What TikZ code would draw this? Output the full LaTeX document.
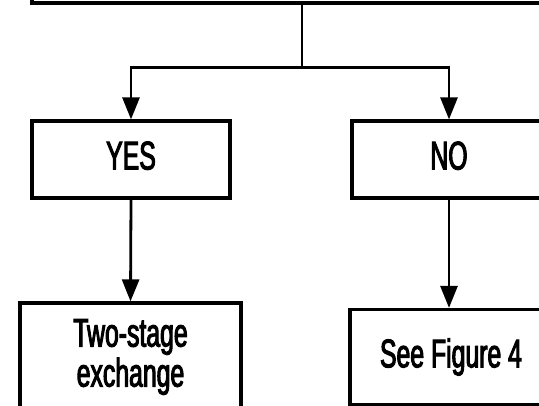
\documentclass[tikz,border=0pt]{standalone}
\usepackage{fontspec}
\usetikzlibrary{arrows.meta,positioning}
\newfontfamily\boxfont{Liberation Sans}[FakeStretch=0.62,FakeBold=2.5]
\tikzset{
  box/.style={draw,line width=3.2pt,inner sep=0pt,font=\boxfont\fontsize{40}{40}\selectfont,align=center},
  flow/.style={line width=2.6pt},
  flowto/.style={line width=2.8pt,-{Triangle[length=22pt,width=17pt]}}
}

\begin{document}
\begin{tikzpicture}[x=1pt,y=-1pt]
    \useasboundingbox(0,0)rectangle(539,406);
    \node[box,minimum width=540pt,minimum height=80pt](question)at(302,-37){};
    \node[box,minimum width=198pt,minimum height=77pt,text depth=8pt](yes)at(131,159.5){YES};
    \node[box,minimum width=194pt,minimum height=77pt,text depth=8pt](no)at(449,159.5){NO};
    \node[box,minimum width=221pt,minimum height=108pt](twostage)at(130.5,357){Two-stage\\exchange};
    \node[box,minimum width=202pt,minimum height=95pt](seefig)at(451,357){See Figure 4};
    \draw[flow](question.south)--++(0,63)coordinate(split);
    \draw[flowto](split)-|(yes.north);
    \draw[flowto](split)-|(no.north);
    \draw[flowto](yes.south)--(twostage.north);
    \draw[flowto](no.south)--(no.south|-seefig.north);
  \end{tikzpicture}
\end{document}
